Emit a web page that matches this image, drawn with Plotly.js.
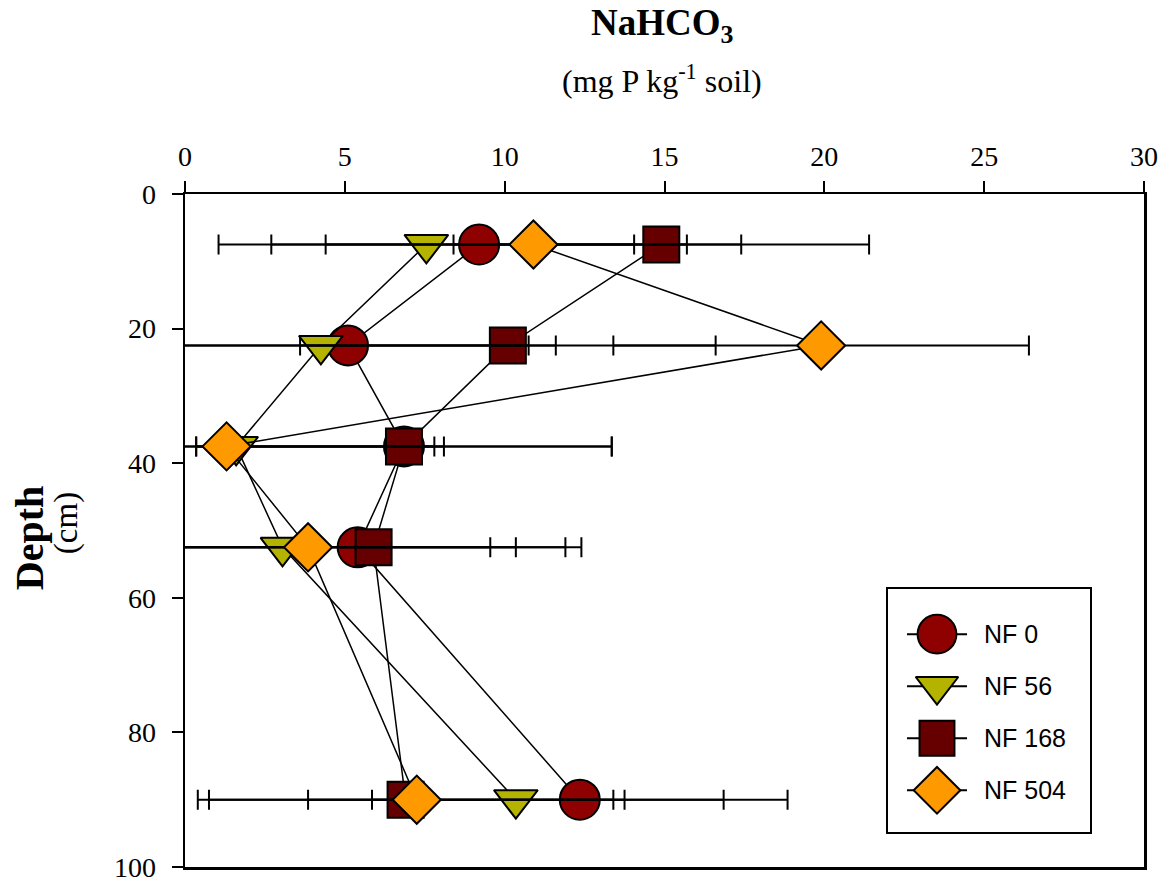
<!DOCTYPE html>
<html>
<head>
<meta charset="utf-8">
<script src="https://cdn.plot.ly/plotly-3.0.1.min.js"></script>
<style>html,body{margin:0;padding:0;background:#fff;}#chart{width:1171px;height:882px;}</style>
</head>
<body>
<div id="chart"></div>
<script>
// ---- data ----
const depth = [7.5, 22.5, 37.5, 52.5, 90];
const nf0 = [9.2, 5.1, 6.85, 5.4, 12.35];
const nf56 = [7.55, 4.25, 1.6, 3.05, 10.35];
const nf168 = [14.9, 10.1, 6.85, 5.9, 6.9];
const nf504 = [10.9, 19.9, 1.3, 3.85, 7.25];
const errBar = [6.5, 6.5, 6.5, 6.5, 6.5];
const seriesNames = ["NF 0", "NF 56", "NF 168", "NF 504"];
const xTicks = [0, 5, 10, 15, 20, 25, 30];
const yTicks = [0, 20, 40, 60, 80, 100];

// ---- styles ----
const styles = [
  {symbol: "circle", size: 40, color: "#8f0000"},
  {symbol: "triangle-down", size: 38, color: "#b3b300"},
  {symbol: "square", size: 36, color: "#660000"},
  {symbol: "diamond", size: 37, color: "#ff9900"}
];
const seriesVals = [nf0, nf56, nf168, nf504];
const serif = "'Liberation Serif', 'Times New Roman', 'DejaVu Serif', serif";
const sans = "'Liberation Sans', Arial, sans-serif";

function mainTrace(i) {
  return {
    x: seriesVals[i], y: depth, name: seriesNames[i],
    mode: "lines+markers", type: "scatter",
    line: {color: "#000", width: 1.5},
    marker: {symbol: styles[i].symbol, size: styles[i].size, color: styles[i].color,
             line: {color: "#000", width: 2}},
    showlegend: false, hoverinfo: "skip"
  };
}
function errTrace(i) {
  return {
    x: seriesVals[i], y: depth, mode: "markers", type: "scatter",
    marker: {size: 1, opacity: 0},
    error_x: {type: "data", array: errBar, visible: true, color: "#000", thickness: 2, width: 10},
    showlegend: false, hoverinfo: "skip"
  };
}

const traces = [mainTrace(0), mainTrace(1), mainTrace(2),
                errTrace(0), errTrace(1), errTrace(2), errTrace(3),
                mainTrace(3)];

// custom legend on auxiliary axes
const legendMarkerX = 49;
seriesNames.forEach((nm, i) => {
  traces.push({
    x: [legendMarkerX], y: [i], xaxis: "x2", yaxis: "y2",
    mode: "markers", type: "scatter", cliponaxis: false,
    marker: {symbol: styles[i].symbol, size: styles[i].size * 0.97, color: styles[i].color,
             line: {color: "#000", width: 2}},
    error_x: {type: "constant", value: 30, visible: true, color: "#000", thickness: 2, width: 0},
    showlegend: false, hoverinfo: "skip"
  });
});

const plotL = 185, plotR = 1144, plotT = 194, plotB = 866.7;
const W = 1171, H = 882;
const px2x = p => (p - plotL) / (plotR - plotL);
const px2y = p => (plotB - p) / (plotB - plotT);

const annotations = [
  {text: "<b>NaHCO<sub>3</sub></b>", xref: "paper", yref: "paper", x: px2x(662), y: px2y(26),
   showarrow: false, font: {family: serif, size: 37, color: "#000"}, xanchor: "center", yanchor: "middle"},
  {text: "(mg P kg<sup>-1</sup> soil)", xref: "paper", yref: "paper", x: px2x(662), y: px2y(79),
   showarrow: false, font: {family: serif, size: 32, color: "#000"}, xanchor: "center", yanchor: "middle"},
  {text: "<b>Depth</b>", xref: "paper", yref: "paper", x: px2x(29), y: px2y(538), textangle: -90,
   showarrow: false, font: {family: serif, size: 40, color: "#000"}, xanchor: "center", yanchor: "middle"},
  {text: "(cm)", xref: "paper", yref: "paper", x: px2x(66), y: px2y(523), textangle: -90,
   showarrow: false, font: {family: serif, size: 33, color: "#000"}, xanchor: "center", yanchor: "middle"}
];
seriesNames.forEach((nm, i) => {
  annotations.push({text: nm, xref: "x2", yref: "y2", x: 94, y: i, showarrow: false,
    xanchor: "left", yanchor: "middle", font: {family: sans, size: 25, color: "#000"}});
});

const layout = {
  width: W, height: H,
  margin: {l: plotL, r: W - plotR, t: plotT, b: H - plotB, pad: 0},
  paper_bgcolor: "#fff", plot_bgcolor: "#fff",
  showlegend: false,
  xaxis: {
    side: "top", range: [0, 30], tickvals: xTicks, ticktext: xTicks.map(String),
    ticks: "outside", ticklen: 11, tickwidth: 2, tickcolor: "#000",
    showline: true, linewidth: 2.5, linecolor: "#000", mirror: true,
    showgrid: false, zeroline: false, ticklabelstandoff: 3, ticklabeloverflow: "allow",
    tickfont: {family: serif, size: 28, color: "#000"}, fixedrange: true
  },
  yaxis: {
    range: [100, 0], tickvals: yTicks, ticktext: yTicks.map(String),
    ticks: "outside", ticklen: 11, tickwidth: 2, tickcolor: "#000",
    showline: true, linewidth: 2.5, linecolor: "#000", mirror: true,
    showgrid: false, zeroline: false, ticklabelstandoff: 10, ticklabeloverflow: "allow",
    tickfont: {family: serif, size: 28, color: "#000"}, fixedrange: true
  },
  xaxis2: {
    domain: [px2x(888), px2x(1090)], anchor: "y2", range: [0, 1090 - 888],
    showline: true, mirror: "all", linecolor: "#000", linewidth: 2,
    showgrid: false, zeroline: false, showticklabels: false, ticks: "", fixedrange: true
  },
  yaxis2: {
    domain: [px2y(832), px2y(589)], anchor: "x2",
    range: [(832 - 589 - 45) / 52, -45 / 52],
    showline: true, mirror: "all", linecolor: "#000", linewidth: 2,
    showgrid: false, zeroline: false, showticklabels: false, ticks: "", fixedrange: true
  },
  annotations: annotations
};

Plotly.newPlot("chart", traces, layout, {displayModeBar: false, staticPlot: true});
</script>
</body>
</html>
